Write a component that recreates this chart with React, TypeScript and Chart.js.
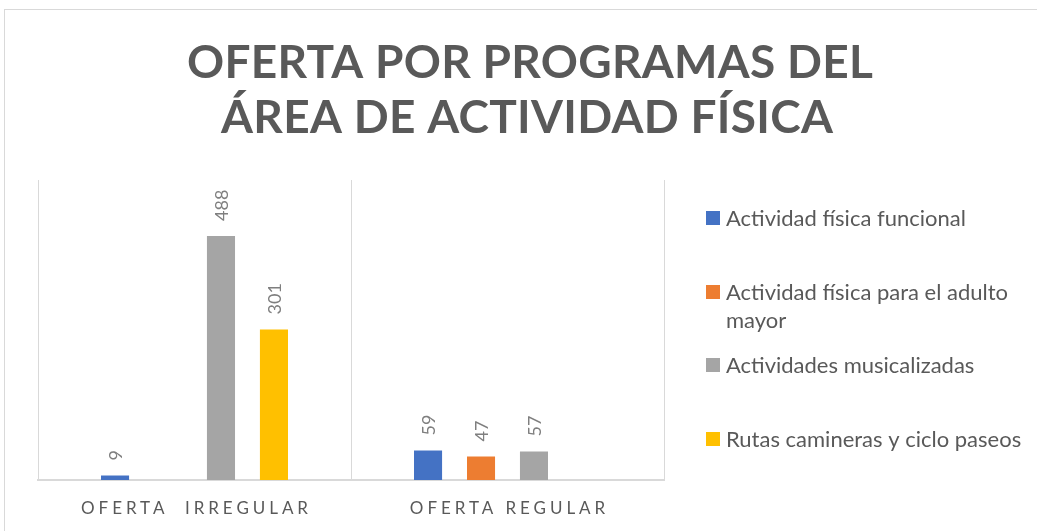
import React, { useEffect, useRef } from "react";
import { Chart, registerables } from "chart.js";

Chart.register(...registerables);

const categories = ["OFERTA  IRREGULAR", "OFERTA REGULAR"];
const seriesNames = [
  "Actividad física funcional",
  "Actividad física para el adulto mayor",
  "Actividades musicalizadas",
  "Rutas camineras y ciclo paseos",
];
const funcional = [9, 59];
const adultoMayor = [null, 47];
const musicalizadas = [488, 57];
const rutas = [301, null];
const titleLines = ["OFERTA POR PROGRAMAS DEL", "ÁREA DE ACTIVIDAD FÍSICA"];
const yMax = 600;

const colors = ["#4472C4", "#ED7D31", "#A5A5A5", "#FFC000"];
const FONT = "Lato, 'Open Sans', sans-serif";

function spacedText(ctx: CanvasRenderingContext2D, text: string, cx: number, y: number, spacing: number) {
  (ctx as any).letterSpacing = spacing + "px";
  const w = ctx.measureText(text).width - spacing;
  ctx.textAlign = "left";
  ctx.fillText(text, cx - w / 2, y);
  (ctx as any).letterSpacing = "0px";
}

const decorPlugin = {
  id: "decor",
  beforeDraw(chart: any) {
    const ctx = chart.ctx as CanvasRenderingContext2D;
    ctx.save();
    ctx.fillStyle = "#FFFFFF";
    ctx.fillRect(0, 0, chart.width, chart.height);
    ctx.strokeStyle = "#D9D9D9";
    ctx.lineWidth = 1;
    ctx.strokeRect(4.5, 9.5, chart.width + 20, chart.height + 20);
    ctx.restore();
  },
  afterDatasetsDraw(chart: any) {
    const ctx = chart.ctx as CanvasRenderingContext2D;
    ctx.save();
    // data labels
    ctx.fillStyle = "#7F7F7F";
    ctx.font = `18px ${FONT}`;
    ctx.textBaseline = "middle";
    ctx.textAlign = "left";
    chart.data.datasets.forEach((ds: any, di: number) => {
      const meta = chart.getDatasetMeta(di);
      meta.data.forEach((bar: any, i: number) => {
        const v = ds.data[i];
        if (v === null || v === undefined) return;
        ctx.save();
        ctx.translate(bar.x + 1, bar.y - 15);
        ctx.rotate(-Math.PI / 2);
        ctx.fillText(String(v), 0, 0);
        ctx.restore();
      });
    });
    ctx.restore();
  },
  afterDraw(chart: any) {
    const ctx = chart.ctx as CanvasRenderingContext2D;
    ctx.save();
    // title
    ctx.fillStyle = "#595959";
    ctx.textBaseline = "alphabetic";
    ctx.font = `bold 46px ${FONT}`;
    spacedText(ctx, titleLines[0], 530, 78, 0.3);
    spacedText(ctx, titleLines[1], 527, 133, 0.3);
    // category labels
    const xs = chart.scales.x;
    ctx.font = `17px ${FONT}`;
    categories.forEach((c, i) => {
      spacedText(ctx, c, xs.getPixelForValue(i), 514, 3.95);
    });
    // legend
    const legendY = [226, 300, 373, 447];
    ctx.font = `22px ${FONT}`;
    ctx.textAlign = "left";
    const maxW = 300;
    chart.data.datasets.forEach((ds: any, di: number) => {
      const y = legendY[di];
      ctx.fillStyle = ds.backgroundColor;
      ctx.fillRect(706, y - 15, 14, 14);
      ctx.fillStyle = "#595959";
      const words = String(ds.label).split(" ");
      const lines: string[] = [];
      let cur = "";
      words.forEach((w) => {
        const t = cur ? cur + " " + w : w;
        if (ctx.measureText(t).width > maxW && cur) {
          lines.push(cur);
          cur = w;
        } else cur = t;
      });
      lines.push(cur);
      lines.forEach((l, li) => ctx.fillText(l, 726, y + li * 28));
    });
    ctx.restore();
  },
};

export default function App() {
  const ref = useRef<HTMLCanvasElement>(null);
  useEffect(() => {
    if (!ref.current) return;
    const series = [funcional, adultoMayor, musicalizadas, rutas];
    const chart = new Chart(ref.current, {
      type: "bar",
      data: {
        labels: categories,
        datasets: series.map((d, i) => ({
          label: seriesNames[i],
          data: d,
          backgroundColor: colors[i],
          borderWidth: 0,
          categoryPercentage: 0.677,
          barPercentage: 0.53,
        })),
      },
      options: {
        responsive: false,
        animation: false,
        events: [],
        layout: { padding: { left: 38, right: 373, top: 180, bottom: 51 } },
        plugins: { legend: { display: false }, title: { display: false }, tooltip: { enabled: false } },
        scales: {
          x: {
            offset: true,
            grid: { display: true, offset: true, color: "#D9D9D9", lineWidth: 1, drawTicks: false },
            border: { display: true, color: "#D9D9D9", width: 2 },
            ticks: { display: false },
          },
          y: { display: false, min: 0, max: yMax },
        },
      },
      plugins: [decorPlugin],
    });
    return () => chart.destroy();
  }, []);
  return (
    <div style={{ position: "absolute", left: 0, top: 0, width: 1037, height: 531 }}>
      <canvas ref={ref} width={1037} height={531} />
    </div>
  );
}
